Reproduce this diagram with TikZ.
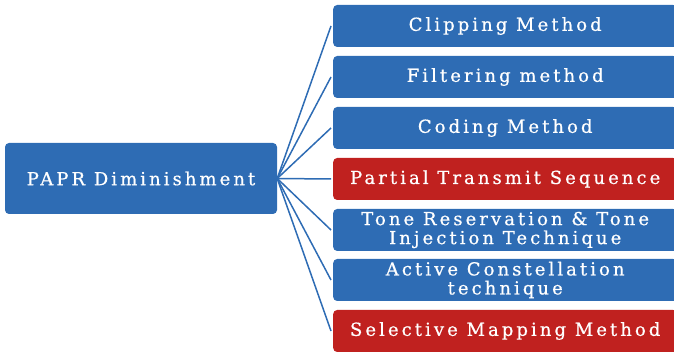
\documentclass[tikz,border=0pt]{standalone}
\usepackage{fontspec}
\setmainfont[LetterSpace=17,FakeBold=0.6]{DejaVu Serif}
\definecolor{boxblue}{RGB}{46,108,180}
\definecolor{boxred}{RGB}{192,33,31}
\begin{document}
\begin{tikzpicture}[x=1pt,y=-1pt,
  mbox/.style={rounded corners=4pt, text=white, align=center, inner sep=0pt,
    font=\fontsize{18}{19}\selectfont},
  rbox/.style={mbox, anchor=west, minimum width=344pt, minimum height=42pt},
  blu/.style={fill=boxblue},
  rd/.style={fill=boxred},
  conn/.style={draw=boxblue, line width=1.5pt}]
\useasboundingbox (0,0) rectangle (674,352);
\begin{scope}
\clip (0,0) rectangle (674,352);
\node[mbox, blu, minimum width=272pt, minimum height=71pt] (root) at (141,178.5) {PAPR Diminishment};
\node[rbox, blu] (c1) at (333,26) {Clipping Method};
\node[rbox, blu] (c2) at (333,77) {Filtering method};
\node[rbox, blu] (c3) at (333,128) {Coding Method};
\node[rbox, rd]  (c4) at (333,179) {Partial Transmit Sequence};
\node[rbox, blu] (c5) at (333,230) {Tone Reservation \& Tone\\Injection Technique};
\node[rbox, blu] (c6) at (333,280) {Active Constellation\\technique};
\node[rbox, rd]  (c7) at (333,331) {Selective Mapping Method};
\end{scope}
\foreach \i in {1,...,7}{
  \draw[conn] (root.east) -- ([xshift=-2pt]c\i.west);
}
\end{tikzpicture}
\end{document}
